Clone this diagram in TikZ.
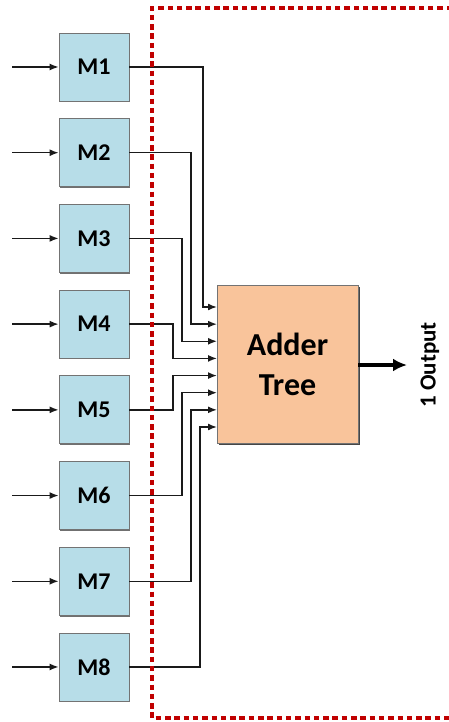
\documentclass[tikz,border=0pt]{standalone}
\usepackage{fontspec}
\setmainfont{Carlito}
\usetikzlibrary{arrows.meta,calc,shadows}
\definecolor{mfill}{HTML}{B7DDE8}
\definecolor{afill}{HTML}{F9C49B}
\definecolor{framered}{HTML}{C00000}
\definecolor{wire}{HTML}{1A1A1A}
\begin{document}
\begin{tikzpicture}[x=1pt,y=-1pt,
  mbox/.style={draw=black!55, line width=0.8pt, fill=mfill,
    minimum width=70pt, minimum height=68pt, inner sep=0pt,
    font=\fontsize{24}{26}\selectfont\bfseries,
    drop shadow={shadow xshift=1.3pt, shadow yshift=-1.3pt, fill=black!75, opacity=0.75}},
  adderbox/.style={draw=black!55, line width=0.8pt, fill=afill,
    minimum width=141pt, minimum height=158pt, inner sep=0pt, align=center,
    font=\fontsize{32}{40}\selectfont\bfseries,
    drop shadow={shadow xshift=1.8pt, shadow yshift=-1.8pt, fill=black!85, opacity=0.85}},
  inarrow/.style={draw=wire, line width=1.4pt, -{Latex[length=9pt,width=7pt]}},
  conn/.style={draw=wire, line width=1.5pt, -{Latex[length=9pt,width=7pt]}},
  outarrow/.style={draw=black, line width=4pt, -{Latex[length=14pt,width=13pt]}},
  frame/.style={draw=framered, line width=3.6pt, dash pattern=on 5.5pt off 3.8pt},
  outlabel/.style={rotate=90, font=\fontsize{23}{26}\selectfont\bfseries, inner sep=0pt}
]
\useasboundingbox (0,0) rectangle (448,722);

% multiplier blocks with their input arrows
\foreach \i in {1,...,8} {
  \node[mbox] (M\i) at (94, {67+(\i-1)*85.71}) {M\i};
  \coordinate (src\i) at (12, {67+(\i-1)*85.71});
  \draw[inarrow] (src\i) -- (M\i.west);
}

% adder tree
\node[adderbox] (adder) at (287.5,364) {Adder\\Tree};

% input ports on the adder's left edge
\foreach \i in {1,...,8}
  \coordinate (in\i) at (217, {307+(\i-1)*17.14});

% wires from the multipliers to the adder
\foreach \i/\d in {1/14,2/26,3/35,4/44,5/44,6/35,7/26,8/17}
  \draw[conn] (M\i.east) -| ([xshift=-\d pt]in\i) -- (in\i);

% output
\coordinate (out) at (407,365);
\draw[outarrow] (adder.east |- out) -- (out);
\node[outlabel] (outlbl) at (430,365) {1 Output};

% dashed boundary
\coordinate (fTR) at (452,8);
\coordinate (fTL) at (152,8);
\coordinate (fBL) at (152,718);
\coordinate (fBR) at (452,718);
\draw[frame] (fTR) -- (fTL) -- (fBL) -- (fBR);
\end{tikzpicture}
\end{document}
